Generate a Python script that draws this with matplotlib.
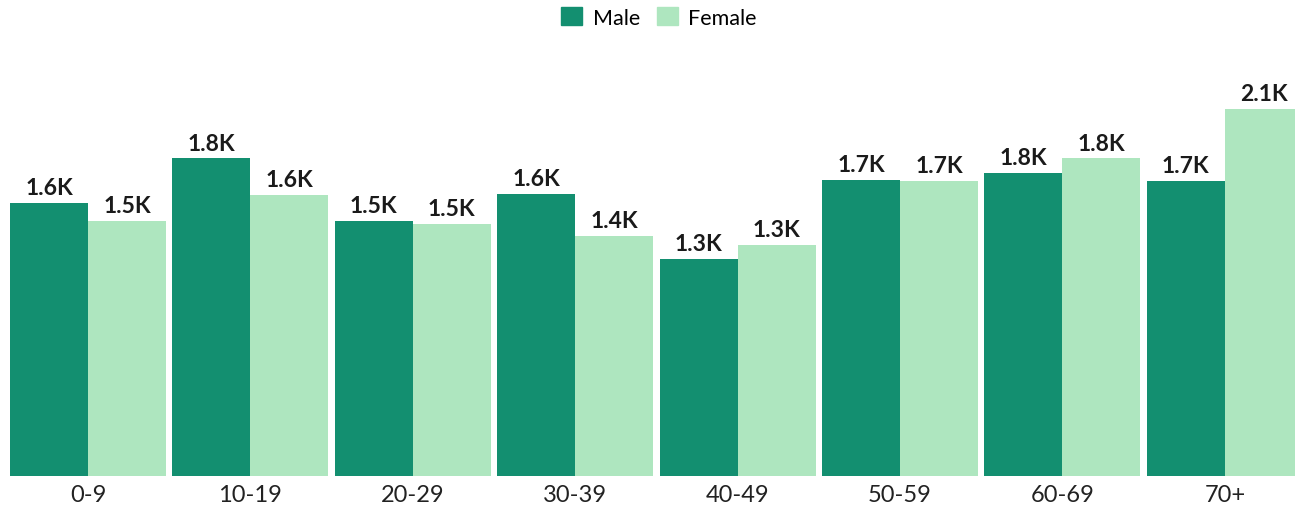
import numpy as np
import matplotlib.pyplot as plt
from matplotlib.patches import Patch

plt.rcParams['font.family'] = ['Lato', 'DejaVu Sans']

# age groups and counts
ages = ['0-9', '10-19', '20-29', '30-39', '40-49', '50-59', '60-69', '70+']
male = [1587, 1846, 1483, 1640, 1262, 1721, 1762, 1715]
female = [1483, 1634, 1465, 1395, 1343, 1715, 1846, 2134]

male_color = '#138F70'
female_color = '#AEE6BF'

fig = plt.figure(figsize=(12.95, 5.06), dpi=100)
ax = fig.add_axes([0, 29 / 506, 1, (477 - 60) / 506])

x = np.arange(len(ages))
w = 0.48
bm = ax.bar(x - w / 2, male, w, color=male_color)
bf = ax.bar(x + w / 2, female, w, color=female_color)

for bars, vals in ((bm, male), (bf, female)):
    for b, v in zip(bars, vals):
        ax.annotate(f'{v / 1000:.1f}K', (b.get_x() + b.get_width() / 2, v),
                    xytext=(0, 3.5), textcoords='offset points',
                    ha='center', va='bottom', fontsize=16.5, fontweight='bold',
                    color='#1a1a1a')

ax.set_xlim(-0.542, 7.432)
ax.set_ylim(0, (477 - 60) * 1000 / 172)
ax.set_xticks(x)
ax.set_xticklabels(ages, fontsize=17, color='#222222')
ax.tick_params(axis='x', length=0, pad=6)
ax.set_yticks([])
for s in ax.spines.values():
    s.set_visible(False)

handles = [Patch(color=male_color, label='Male'),
           Patch(color=female_color, label='Female')]
fig.legend(handles=handles, loc='upper center', bbox_to_anchor=(0.509, 1.01),
           ncol=2, frameon=False, fontsize=15.5, handlelength=0.95,
           handleheight=0.95, handletextpad=0.5, columnspacing=0.8,
           borderaxespad=0.2)

fig.savefig('out.png', dpi=100)
